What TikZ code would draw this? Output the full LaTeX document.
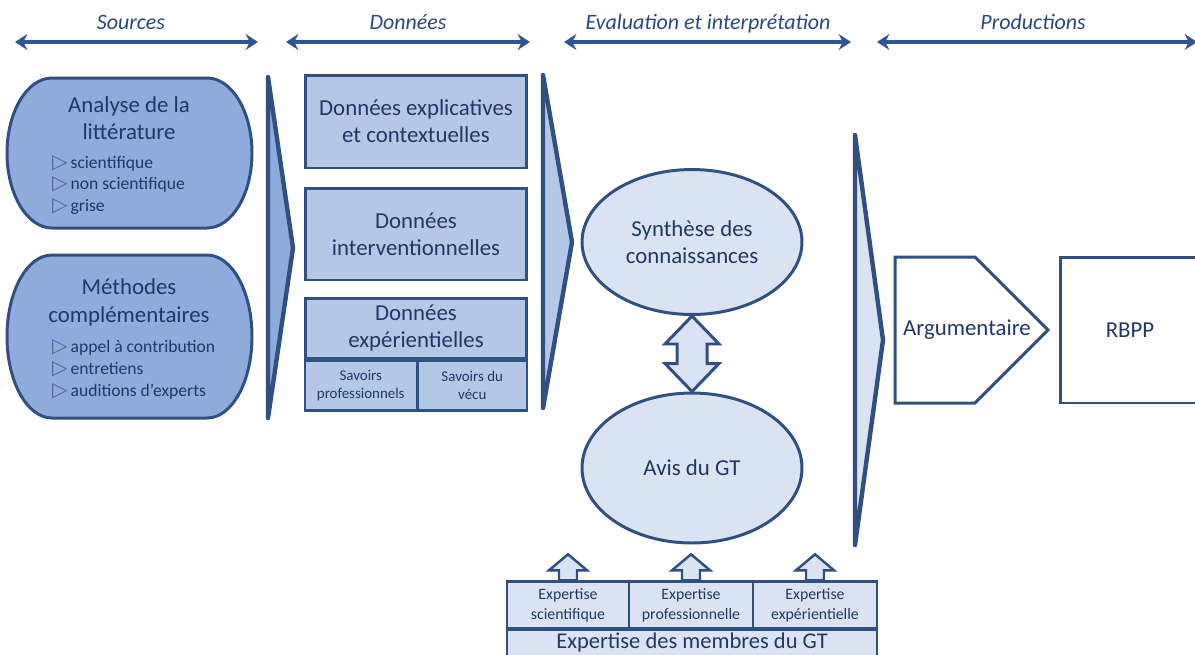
\documentclass[tikz,border=0pt]{standalone}
\usepackage{fontspec}
\setmainfont{Carlito}
\newfontfamily\symfont{DejaVu Sans}
\usetikzlibrary{arrows.meta,positioning,calc,shapes.geometric}
\definecolor{edge}{HTML}{2F5080}
\definecolor{ink}{HTML}{1F3864}
\definecolor{phasecol}{HTML}{2F5597}
\definecolor{fillA}{HTML}{8FAADC}
\definecolor{fillB}{HTML}{B4C7E7}
\definecolor{fillC}{HTML}{DAE3F3}
\definecolor{bulletcol}{HTML}{56688F}
\newcommand{\puce}{{\color{bulletcol}\symfont\fontsize{11.5}{11}\selectfont ▷}\,}
\tikzset{
	phase/.style={draw=phasecol,line width=2.3pt,{Stealth[length=7pt,width=9pt]}-{Stealth[length=7pt,width=9pt]}},
	phasetxt/.style={font=\fontsize{12.5}{14}\selectfont\itshape,text=phasecol!85!black,anchor=base},
	big/.style={font=\fontsize{13}{15.5}\selectfont,text=ink,align=center},
	small/.style={font=\fontsize{10}{12.5}\selectfont,text=ink,align=left},
	blob/.style={draw=edge,fill=fillA,line width=1.7pt},
	chev/.style={draw=edge,line width=2.5pt,line join=round},
	databox/.style={big,draw=edge,fill=fillB,line width=1.7pt,minimum width=4.44cm,inner sep=0pt},
	subcell/.style={draw=edge,fill=fillB,line width=1.4pt,font=\fontsize{8.5}{10.2}\selectfont,text=ink,align=center,inner sep=0pt,minimum height=1cm},
	oval/.style={big,ellipse,draw=edge,fill=fillC,line width=1.7pt,inner sep=0pt,minimum width=4.4cm},
	blockarrow/.style={draw=edge,fill=fillC,line width=1.7pt},
	expcell/.style={draw=edge,fill=fillC,line width=1.4pt,font=\fontsize{9}{11.3}\selectfont,text=ink,align=center,inner sep=0pt,minimum height=0.94cm},
	prodbox/.style={draw=edge,line width=1.7pt}
}
\begin{document}
\begin{tikzpicture}[x=0.02cm,y=-0.02cm]
	\useasboundingbox (0,0) rectangle (1195,654);
	% phases
	\node[phasetxt] (src) at (131,29) {Sources};
	\node[phasetxt] (don) at (408,29) {Données};
	\node[phasetxt] (eval) at (708,29) {Evaluation et interprétation};
	\node[phasetxt] (prod) at (1033,29) {Productions};
	\foreach \n/\a/\b in {src/15/258,don/286/530,eval/564/851,prod/877/1197}{
		\coordinate (\n L) at (\a,42);
		\coordinate (\n R) at (\b,42);
		\draw[phase] (\n L)--(\n R);
	};
	% sources
	\draw[blob] (52,78)--(207,78) .. controls (232,78) and (252,112) .. (252,153) .. controls (252,194) and (232,228) .. (207,228)--(52,228) .. controls (27,228) and (7,194) .. (7,153) .. controls (7,112) and (27,78) .. (52,78)--cycle;
	\draw[blob] (52,255)--(207,255) .. controls (232,255) and (252,291.5) .. (252,336.5) .. controls (252,381.5) and (232,418) .. (207,418)--(52,418) .. controls (27,418) and (7,381.5) .. (7,336.5) .. controls (7,291.5) and (27,255) .. (52,255)--cycle;
	\node[big] (lit) at (129,118.5) {Analyse de la\\littérature};
	\node[small,anchor=west] (litlist) at (46,185) {\puce scientifique\\\puce non scientifique\\\puce grise};
	\node[big] (meth) at (129,302.5) {Méthodes\\complémentaires};
	\node[small,anchor=west] (methlist) at (46,369) {\puce appel à contribution\\\puce entretiens\\\puce auditions d’experts};
	\draw[chev,fill=fillA] (268,77)--(293,248)--(268,418)--cycle;
	% donnees
	\node[databox,minimum height=1.86cm] (expl) at (416,121.5) {Données explicatives\\et contextuelles};
	\node[databox,minimum height=1.84cm] (interv) at (416,234) {Données\\interventionnelles};
	\node[databox,minimum height=1.2cm] (exper) at (416,328) {Données\\expérientielles};
	\node[subcell,minimum width=2.24cm,anchor=north west] (pro) at (exper.south west) {Savoirs\\professionnels};
	\node[subcell,minimum width=2.2cm,anchor=north east] (vecu) at (exper.south east) {Savoirs du\\vécu};
	\draw[chev,fill=fillB] (543,75)--(572,242)--(543,408)--cycle;
	% evaluation
	\node[oval,minimum height=2.9cm] (syn) at (692,242) {Synthèse des\\connaissances};
	\node[oval,minimum height=3cm] (avis) at (692,468) {Avis du GT};
	\draw[blockarrow] (syn.south)--++(27,28)--++(-12,0) |- ($(avis.north)+(15,-28)$)--++(12,0)--(avis.north)--++(-27,-28)--++(12,0) |- ($(syn.south)+(-15,28)$)--++(-12,0)--cycle;
	\node[expcell,minimum width=2.44cm] (escient) at (568,605) {Expertise\\scientifique};
	\node[expcell,minimum width=2.48cm] (epro) at (691,605) {Expertise\\professionnelle};
	\node[expcell,minimum width=2.48cm] (eexp) at (815,605) {Expertise\\expérientielle};
	\node[expcell,minimum width=7.4cm,minimum height=0.6cm,anchor=north] (membres) at (692,628.5) {};
	\node[big,font=\fontsize{12.8}{15}\selectfont,anchor=base] (membrestxt) at (692,648.5) {Expertise des membres du GT};
	\foreach \c in {escient,epro,eexp}{
		\draw[blockarrow,line width=1.4pt] ($(\c.north)+(-9,0)$)--++(0,-10)--++(-10,0)--++(19,-16)--++(19,16)--++(-10,0)--++(0,10)--cycle;
	};
	\draw[chev,fill=fillC] (855,135)--(883,340)--(855,545)--cycle;
	% productions
	\draw[prodbox] (895,257)--(975,257)--(1048,330)--(975,403)--(895,403)--cycle;
	\node[big] (arg) at (967,330) {Argumentaire};
	\node[big,prodbox,minimum width=2.8cm,minimum height=2.92cm] (rbpp) at (1130,330) {RBPP};
\end{tikzpicture}
\end{document}
